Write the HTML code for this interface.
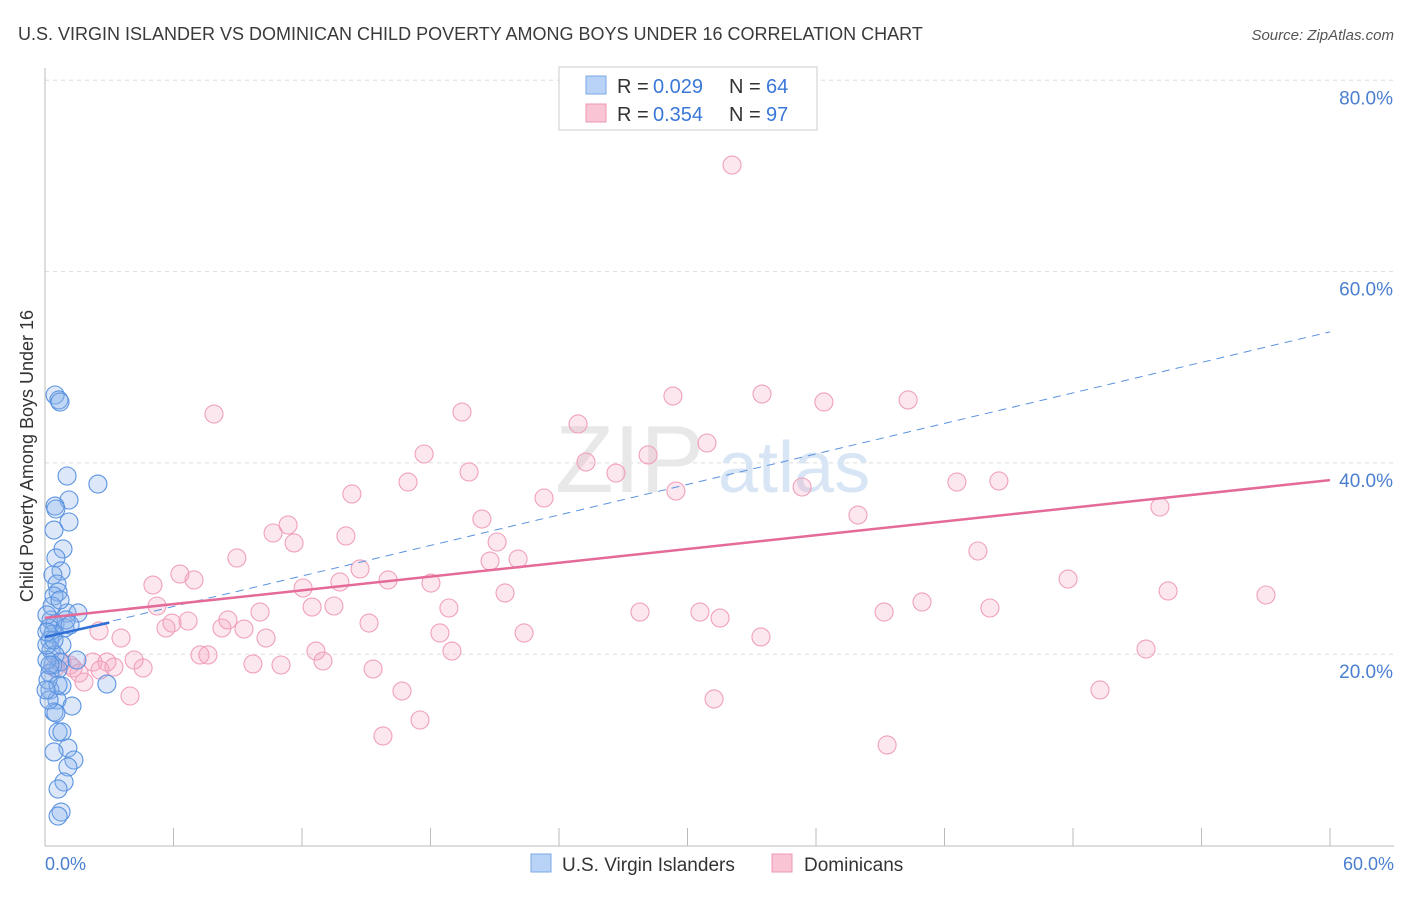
<!DOCTYPE html>
<html><head><meta charset="utf-8"><style>
body{margin:0;background:#fff;font-family:"Liberation Sans",sans-serif}
svg text{font-family:"Liberation Sans",sans-serif}
</style></head><body>
<svg width="1406" height="892" xmlns="http://www.w3.org/2000/svg">
<text x="18" y="40" font-size="18" fill="#3a3a3a">U.S. VIRGIN ISLANDER VS DOMINICAN CHILD POVERTY AMONG BOYS UNDER 16 CORRELATION CHART</text>
<text x="1394" y="40" font-size="15" fill="#555" text-anchor="end" font-style="italic">Source: ZipAtlas.com</text>
<g id="grid"></g>
<text x="555" y="492" font-size="96" fill="#e8e8e8" font-family="Liberation Serif">ZIP</text>
<text x="718" y="492" font-size="72" fill="#d8e5f5">atlas</text>
<line x1="45" y1="68" x2="45" y2="846" stroke="#bbb"/>
<line x1="45" y1="846" x2="1394" y2="846" stroke="#bbb"/>
<text x="33" y="456" font-size="18" fill="#333" text-anchor="middle" transform="rotate(-90 33 456)">Child Poverty Among Boys Under 16</text>
<text x="45" y="870" font-size="18" fill="#4a7fd0">0.0%</text>
<text x="1394" y="870" font-size="18" fill="#4a7fd0" text-anchor="end">60.0%</text>
<g id="pts"></g>
<g id="lines"></g>
<rect x="559" y="67" width="258" height="63" fill="#fff" stroke="#ccc"/>
<rect x="586" y="76" width="20" height="18" fill="#b8d3f5" stroke="#7aa7e6"/>
<rect x="586" y="104" width="20" height="18" fill="#f9c5d5" stroke="#ee98b4"/>
<text y="93" font-size="20" fill="#333"><tspan x="617">R = </tspan><tspan x="653" fill="#3a78d8">0.029</tspan><tspan x="729">N = </tspan><tspan x="766" fill="#3a78d8">64</tspan></text>
<text y="121" font-size="20" fill="#333"><tspan x="617">R = </tspan><tspan x="653" fill="#3a78d8">0.354</tspan><tspan x="729">N = </tspan><tspan x="766" fill="#3a78d8">97</tspan></text>
<rect x="531" y="854" width="20" height="18" fill="#b8d3f5" stroke="#7aa7e6"/>
<text x="562" y="871" font-size="19" fill="#333">U.S. Virgin Islanders</text>
<rect x="772" y="854" width="20" height="18" fill="#f9c5d5" stroke="#ee98b4"/>
<text x="804" y="871" font-size="19" fill="#333">Dominicans</text>
</svg>
<script>
const yTicks=[20,40,60,80];
const yTickLabels=["20.0%","40.0%","60.0%","80.0%"];
const xTicks=[0,6,12,18,24,30,36,42,48,54,60];
const bluePx=[[55,395],[59,400],[60,402],[67,476],[98,484],[69,500],[55,506],[56,509],[69,522],[54,530],[63,549],[56,558],[61,571],[53,575],[57,584],[58,592],[54,596],[67,613],[78,613],[51,620],[55,624],[49,628],[53,634],[50,640],[62,645],[51,650],[55,655],[77,660],[60,662],[53,665],[58,669],[50,673],[62,686],[107,684],[50,690],[57,700],[72,706],[54,712],[56,713],[58,732],[62,732],[68,748],[54,752],[74,760],[68,767],[64,782],[58,789],[61,812],[58,816],[48,680],[52,606],[47,660],[47,645],[60,600],[49,700],[65,628],[47,615],[54,640],[58,685],[66,620],[70,625],[50,665],[46,690],[47,632]];
const pinkPx=[[732,165],[673,396],[762,394],[824,402],[908,400],[214,414],[462,412],[578,424],[707,443],[424,454],[648,455],[586,462],[469,472],[408,482],[616,473],[676,491],[802,487],[352,494],[544,498],[957,482],[999,481],[1160,507],[482,519],[858,515],[288,525],[273,533],[346,536],[294,543],[497,542],[978,551],[237,558],[490,561],[518,559],[360,569],[180,574],[194,580],[153,585],[388,580],[431,583],[340,582],[303,588],[1068,579],[505,593],[1168,591],[1266,595],[157,606],[312,607],[334,606],[449,608],[260,612],[640,612],[700,612],[720,618],[922,602],[884,612],[990,608],[172,623],[188,621],[228,620],[369,623],[166,628],[222,628],[244,629],[99,631],[440,633],[524,633],[121,638],[266,638],[761,637],[452,651],[316,651],[200,655],[208,655],[323,661],[134,660],[107,662],[93,662],[253,664],[281,665],[143,668],[114,667],[73,668],[62,662],[373,669],[79,673],[1146,649],[84,682],[402,691],[1100,690],[130,696],[714,699],[420,720],[383,736],[887,745],[70,665],[55,668],[100,670]];
const blueX=bluePx.map(p=>+((p[0]-45)/1285*60).toFixed(2));
const blueY=bluePx.map(p=>+((845.5-p[1])/191.3*20).toFixed(2));
const pinkX=pinkPx.map(p=>+((p[0]-45)/1285*60).toFixed(2));
const pinkY=pinkPx.map(p=>+((845.5-p[1])/191.3*20).toFixed(2));
const pinkTrend=[[0,23.8],[60,38.2]];
const blueTrend=[[0,21.8],[3,23.3]];
const blueDash=[[0,21.8],[60,53.7]];
const NS="http://www.w3.org/2000/svg";
const sx=v=>45+v/60*1285, sy=v=>845.5-v/20*191.3;
function mk(t,a,parent){const e=document.createElementNS(NS,t);for(const k in a)e.setAttribute(k,a[k]);document.getElementById(parent).appendChild(e);return e;}
yTicks.forEach((t,i)=>{
 const l=mk('line',{x1:45,x2:1394,y1:sy(t),y2:sy(t),stroke:'#ddd','stroke-dasharray':'4,4'},'grid');
 
 
 const tx=mk('text',{x:1393,y:sy(t)+24,'font-size':19,fill:'#4a7fd0','text-anchor':'end'},'grid');
 tx.textContent=yTickLabels[i];
 
 
});
xTicks.forEach(t=>{
 const l=mk('line',{x1:sx(t),x2:sx(t),y1:828,y2:846,stroke:'#bbb'},'grid');
 
 
});
pinkX.forEach((x,i)=>{
 const c=mk('circle',{cx:sx(x),cy:sy(pinkY[i]),r:9,fill:'rgba(244,160,188,0.25)',stroke:'#f0a0bb','stroke-width':1.1},'pts');
 
 
});
blueX.forEach((x,i)=>{
 const c=mk('circle',{cx:sx(x),cy:sy(blueY[i]),r:9,fill:'rgba(140,180,235,0.3)',stroke:'#5b93e0','stroke-width':1.1},'pts');
 
 
});
let l=mk('line',{x1:sx(blueDash[0][0]),y1:sy(blueDash[0][1]),x2:sx(blueDash[1][0]),y2:sy(blueDash[1][1]),stroke:'#5b93e0','stroke-width':1,'stroke-dasharray':'8,6'},'lines');


l=mk('line',{x1:sx(pinkTrend[0][0]),y1:sy(pinkTrend[0][1]),x2:sx(pinkTrend[1][0]),y2:sy(pinkTrend[1][1]),stroke:'#e46a98','stroke-width':2.5},'lines');


l=mk('line',{x1:sx(blueTrend[0][0]),y1:sy(blueTrend[0][1]),x2:sx(blueTrend[1][0]),y2:sy(blueTrend[1][1]),stroke:'#2f6fd6','stroke-width':2.5},'lines');


</script>
</body></html>
